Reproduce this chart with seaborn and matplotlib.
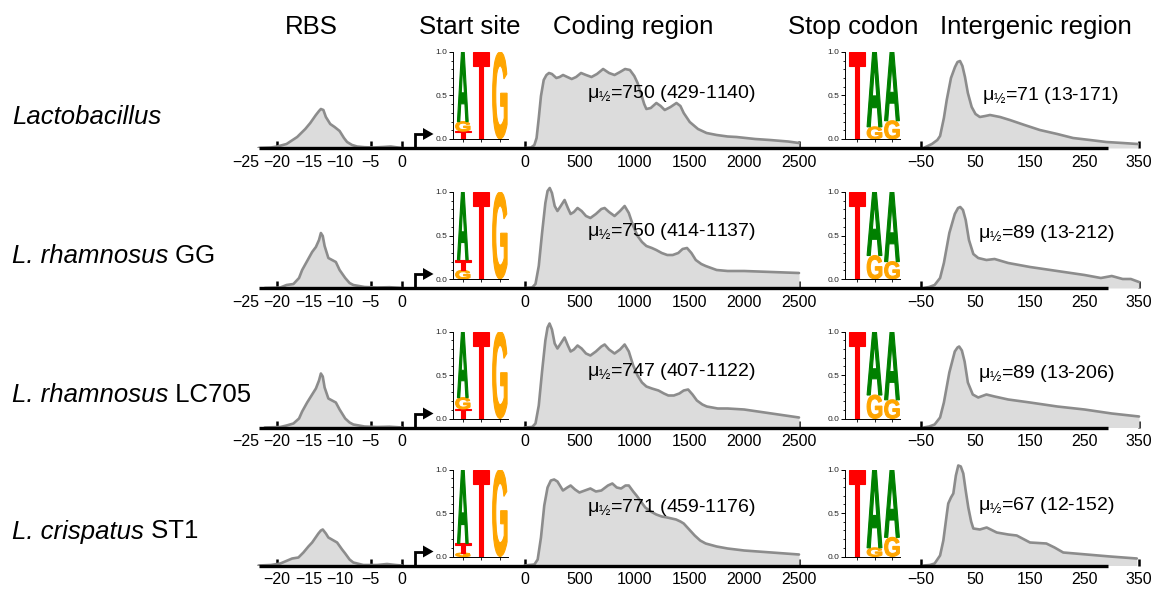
import numpy as np
import pandas as pd
import matplotlib
matplotlib.use("Agg")
import matplotlib.pyplot as plt
import seaborn as sns
from matplotlib.textpath import TextPath
from matplotlib.patches import PathPatch, Polygon
from matplotlib.font_manager import FontProperties
from matplotlib.transforms import Affine2D
from matplotlib.ticker import MultipleLocator

# ---------------- data ----------------
headers = ["RBS", "Start site", "Coding region", "Stop codon", "Intergenic region"]
row_italic = ["Lactobacillus", "L. rhamnosus", "L. rhamnosus", "L. crispatus"]
row_plain = ["", " GG", " LC705", " ST1"]

rbs_ticks_full = [-25, -20, -15, -10, -5, 0]
rbs_ticks_short = [-20, -15, -10, -5, 0]
coding_ticks = [0, 500, 1000, 1500, 2000, 2500]
inter_ticks = [-50, 50, 150, 250, 350]

# RBS densities (relative height)
rbs1_x = [-23, -21, -20, -18.5, -16.8, -15.5, -14.7, -13.8, -13.3, -13.0, -12.6, -12.2, -11.5, -10.8, -10.0, -9.3, -8.8, -8.0, -7.2, -6, -4.6, -3, -1.8, -1, 0]
rbs1_y = [0, 0.5, 1.5, 4, 11, 19, 25, 33, 37, 39, 38, 31, 24, 21, 17, 10, 6, 3, 1.5, 0.8, 0.5, 1, 1.5, 0.8, 0]
rbs2_x = [-22, -19.5, -18.5, -17.4, -16.5, -16, -15.2, -14.4, -13.8, -13.3, -13.0, -12.7, -12.4, -11.8, -11.2, -10.6, -10.0, -9.1, -8.4, -7.8, -6, -4, -2, 0]
rbs2_y = [0, 0.5, 3, 4, 10, 18, 27, 36, 41, 48, 55, 52, 42, 30, 28, 26, 18, 10, 5, 3, 1, 0.5, 0.8, 0]
rbs3_x = [-22, -19.5, -18.5, -17.4, -16.5, -16, -15.2, -14.4, -13.8, -13.3, -13.0, -12.7, -12.4, -11.8, -11.2, -10.6, -10.0, -9.1, -8.4, -7.8, -6, -4, -2, 0]
rbs3_y = [0, 0.5, 2, 4, 9, 16, 25, 33, 39, 47, 54, 51, 40, 29, 27, 25, 18, 9, 5, 3, 1, 0.5, 0.8, 0]
rbs4_x = [-23, -21, -19.5, -17.6, -16.6, -15.8, -15.0, -14.4, -13.4, -13.0, -12.7, -12.2, -11.8, -10.4, -9.6, -9.1, -8.4, -7.8, -6.2, -4, -2.4, -1, 0]
rbs4_y = [0, 0.5, 2, 7, 8, 13, 19, 23, 32, 35, 36, 32, 28, 23, 16, 12, 6, 3, 0.5, 0.5, 1.5, 0.5, 0]

# Coding region densities
cod1_x = [0, 60, 90, 110, 130, 150, 175, 200, 223, 250, 290, 320, 351, 390, 430, 470, 515, 560, 610, 660, 716, 770, 820, 870, 916, 960, 1000, 1030, 1060, 1090, 1110, 1150, 1201, 1240, 1277, 1330, 1384, 1420, 1450, 1505, 1580, 1658, 1750, 1850, 1931, 2100, 2235, 2400, 2500]
cod1_y = [0, 0.5, 3, 10, 30, 52, 68, 73, 75, 74, 70, 71, 73, 71, 69, 71, 75, 73, 71, 74, 79, 75, 73, 76, 79, 78, 72, 65, 55, 44, 39, 40, 45, 42, 38, 41, 45, 42, 35, 26, 19, 15, 13, 11.5, 11, 9, 8, 6.5, 5]
cod2_x = [0, 70, 100, 130, 160, 190, 210, 230, 250, 275, 300, 330, 365, 395, 420, 450, 483, 520, 560, 600, 650, 700, 730, 770, 820, 870, 912, 950, 990, 1030, 1070, 1110, 1160, 1200, 1250, 1300, 1350, 1400, 1440, 1480, 1520, 1560, 1610, 1650, 1700, 1750, 1850, 2000, 2250, 2500]
cod2_y = [0, 0.5, 4, 22, 55, 85, 97, 100, 95, 82, 77, 82, 88, 80, 74, 76, 80, 77, 72, 70, 74, 79, 80, 76, 72, 77, 82, 75, 62, 52, 46, 42, 40, 38, 35, 33, 33, 35, 39, 40, 35, 28, 24, 22, 20, 18, 17, 17, 16, 15]
cod3_x = [0, 70, 100, 130, 160, 190, 210, 228, 250, 275, 300, 330, 365, 395, 420, 450, 483, 520, 560, 600, 650, 700, 730, 770, 820, 870, 912, 950, 990, 1030, 1070, 1110, 1160, 1220, 1270, 1310, 1360, 1410, 1450, 1490, 1530, 1570, 1620, 1660, 1710, 1760, 1850, 2000, 2250, 2500]
cod3_y = [0, 0.5, 4, 22, 56, 87, 100, 104, 98, 84, 79, 84, 90, 82, 76, 78, 82, 79, 74, 72, 76, 81, 83, 78, 74, 78, 83, 76, 62, 52, 45, 41, 39, 37, 34, 32, 32, 34, 37, 38, 33, 27, 23, 21, 20, 19, 19, 18, 14, 10]
cod4_x = [0, 90, 120, 150, 180, 210, 240, 270, 300, 350, 390, 420, 460, 500, 550, 600, 650, 700, 760, 800, 840, 880, 920, 950, 990, 1020, 1060, 1100, 1150, 1200, 1250, 1300, 1340, 1380, 1420, 1450, 1500, 1550, 1600, 1650, 1750, 1850, 2000, 2250, 2500]
cod4_y = [0, 1, 6, 28, 60, 78, 85, 86, 84, 75, 78, 80, 76, 73, 75, 77, 74, 75, 80, 82, 78, 77, 80, 80, 74, 70, 64, 58, 54, 51, 49, 48, 47, 46, 44, 42, 36, 30, 25, 22, 19, 17, 15, 13, 11]

# Intergenic region densities
int1_x = [-45, -39.6, -30, -20, -15, -8, -2.8, 5, 12.4, 17, 21.6, 26, 30.7, 36, 43, 50, 58, 68, 76.6, 95, 113, 140, 168, 200, 229, 260, 290, 320, 348]
int1_y = [0, 1.5, 4, 8, 12, 30, 48, 70, 81, 86, 87, 82, 71, 55, 41, 34, 31, 32, 33, 31, 28, 23, 18, 14, 10, 8, 6, 5, 4]
int2_x = [-45, -35, -25, -15, -8, 2, 12, 18, 22, 27, 32, 38, 46, 55, 70, 85, 110, 150, 200, 250, 280, 300, 320, 335, 350]
int2_y = [0, 1, 3, 10, 25, 55, 74, 80, 81, 78, 68, 48, 34, 30, 28, 29, 25, 21, 17, 13, 10, 12, 9, 9, 6]
int3_x = [-45, -35, -25, -15, -8, 2, 12, 17, 20, 25, 30, 36, 45, 55, 70, 85, 110, 150, 200, 250, 300, 350]
int3_y = [0, 1, 3, 10, 25, 55, 76, 80, 81, 77, 66, 45, 33, 30, 33, 31, 28, 25, 21, 18, 14, 11]
int4_x = [-45, -33.5, -25, -15, -9, -3, 0, 5, 9.3, 14, 18.4, 23, 27.6, 32, 36.8, 42, 46, 58, 70.5, 89, 110, 125.6, 150, 180, 195, 211, 254, 297, 346]
int4_y = [0, 0.5, 2, 10, 25, 50, 62, 68, 72, 90, 100, 99, 92, 75, 58, 44, 37, 36, 38, 33, 31, 30, 23, 22, 18, 13, 11, 9, 7]

coding_text = ["=750 (429-1140)", "=750 (414-1137)", "=747 (407-1122)", "=771 (459-1176)"]
inter_text = ["=71 (13-171)", "=89 (13-212)", "=89 (13-206)", "=67 (12-152)"]

# Sequence logos (letter heights, 0-1)
start_pos1_A = [0.80, 0.78, 0.76, 0.85]
start_pos1_G = [0.11, 0.10, 0.13, 0.04]
start_pos1_T = [0.09, 0.12, 0.11, 0.11]
start_pos2_T = [1.0, 1.0, 1.0, 1.0]
start_pos3_G = [1.0, 1.0, 1.0, 1.0]
stop_pos1_T = [1.0, 1.0, 1.0, 1.0]
stop_pos2_A = [0.86, 0.73, 0.73, 0.90]
stop_pos2_G = [0.14, 0.27, 0.27, 0.10]
stop_pos3_A = [0.79, 0.80, 0.785, 0.78]
stop_pos3_G = [0.21, 0.20, 0.215, 0.22]

# ---------------- style ----------------
sns.set_theme(style="white")
plt.rcParams['font.family'] = ['Liberation Sans', 'DejaVu Sans']
plt.rcParams['mathtext.fontset'] = 'custom'
plt.rcParams['mathtext.rm'] = 'Liberation Sans'
plt.rcParams['mathtext.it'] = 'Liberation Sans:italic'
plt.rcParams['mathtext.bf'] = 'Liberation Sans:bold'

LINE = "#8c8c8c"
FILL = "#dcdcdc"
COLORS = {"A": "#008000", "T": "#ff0000", "G": "#ffa500"}
LOGO_FONT = FontProperties(family="Liberation Sans", weight="bold")

W, H = 1158, 590
fig = plt.figure(figsize=(W / 100, H / 100), dpi=100)

baselines = [148, 288, 427.5, 565.5]


def ax_px(x0, x1, y_top, y_bot, **kw):
    a = fig.add_axes([x0 / W, 1 - y_bot / H, (x1 - x0) / W, (y_bot - y_top) / H], **kw)
    a.patch.set_visible(False)
    return a


def density_axis(x0, x1, base, xlim, ticks, xs, ys):
    a = ax_px(x0, x1, base - 120, base)
    a.fill_between(xs, 0, ys, color=FILL, lw=0, zorder=1)
    sns.lineplot(x=xs, y=ys, ax=a, color=LINE, lw=1.9, estimator=None, sort=False,
                 solid_joinstyle="round", zorder=2)
    a.set_xlim(*xlim)
    a.set_ylim(0, 120)
    a.set_xticks(ticks)
    a.set_xticklabels([f"{t:d}".replace("-", "\u2212") for t in ticks])
    a.set_yticks([])
    a.set_xlabel("")
    a.set_ylabel("")
    for s in a.spines.values():
        s.set_visible(False)
    a.tick_params(axis="x", direction="in", length=5, width=1.8, color="black",
                  labelsize=11.5, pad=5, labelcolor="black", bottom=True)
    return a


def draw_letter(a, ch, xc, y0, h, w):
    if h <= 0:
        return
    tp = TextPath((0, 0), ch, size=1, prop=LOGO_FONT)
    bb = tp.get_extents()
    tr = (Affine2D().translate(-bb.x0, -bb.y0)
          .scale(w / bb.width, h / bb.height)
          .translate(xc - w / 2, y0))
    a.add_patch(PathPatch(tr.transform_path(tp), facecolor=COLORS[ch], edgecolor=COLORS[ch],
                          linewidth=0.8, joinstyle="miter", zorder=3))


def logo_axis(x0, x1, base, xlim, columns, widths):
    a = ax_px(x0, x1, base - 96, base - 9)
    a.set_xlim(*xlim)
    a.set_ylim(0, 1.0)
    for s in ["top", "right"]:
        a.spines[s].set_visible(False)
    for s in ["left", "bottom"]:
        a.spines[s].set_color("black")
        a.spines[s].set_linewidth(0.7)
        a.spines[s].set_zorder(5)
    a.set_yticks([0, 0.5, 1.0])
    a.set_yticklabels(["0.0", "0.5", "1.0"])
    a.yaxis.set_minor_locator(MultipleLocator(0.1))
    a.tick_params(axis="y", which="major", left=True, length=3, width=0.7, labelsize=6, pad=1, color="black")
    a.tick_params(axis="y", which="minor", left=True, length=1.8, width=0.6, color="black")
    a.set_xticks([1, 2, 3])
    a.set_xticklabels([])
    a.tick_params(axis="x", bottom=True, length=2, width=0.6, color="black")
    for i, stack in enumerate(columns):
        y = 0.0
        for ch, h in sorted(stack, key=lambda t: t[1]):
            draw_letter(a, ch, i + 1, y, h, widths[ch])
            y += h
    return a


for r, base in enumerate(baselines):
    rb_ticks = rbs_ticks_full if r < 3 else rbs_ticks_short
    rbs_xs = [rbs1_x, rbs2_x, rbs3_x, rbs4_x][r]
    rbs_ys = [rbs1_y, rbs2_y, rbs3_y, rbs4_y][r]
    a = density_axis(230, 412, base, ((230 - 402) / 6.24, (412 - 402) / 6.24), rb_ticks, rbs_xs, rbs_ys)
    if r < 3:
        a.xaxis.get_major_ticks()[0].tick1line.set_visible(False)

    cod_xs = [cod1_x, cod2_x, cod3_x, cod4_x][r]
    cod_ys = [cod1_y, cod2_y, cod3_y, cod4_y][r]
    density_axis(515, 805, base, ((515 - 524.5) / 0.1098, (805 - 524.5) / 0.1098), coding_ticks, cod_xs, cod_ys)

    int_xs = [int1_x, int2_x, int3_x, int4_x][r]
    int_ys = [int1_y, int2_y, int3_y, int4_y][r]
    density_axis(905, 1145, base, (-50 + (905 - 921) / 0.545, -50 + (1145 - 921) / 0.545), inter_ticks, int_xs, int_ys)

    logo_axis(453, 508, base, (0.47, 3.44),
              [[("T", start_pos1_T[r]), ("G", start_pos1_G[r]), ("A", start_pos1_A[r])],
               [("T", start_pos2_T[r])],
               [("G", start_pos3_G[r])]],
              {"A": 0.58, "T": 0.88, "G": 0.78})
    logo_axis(845, 900, base, (0.31, 3.46),
              [[("T", stop_pos1_T[r])],
               [("G", stop_pos2_G[r]), ("A", stop_pos2_A[r])],
               [("G", stop_pos3_G[r]), ("A", stop_pos3_A[r])]],
              {"A": 0.85, "T": 0.9, "G": 0.85})

# ---------------- overlay: baselines, arrows, text ----------------
ov = fig.add_axes([0, 0, 1, 1], zorder=10)
ov.set_xlim(0, W)
ov.set_ylim(H, 0)
ov.axis("off")
ov.patch.set_visible(False)

header_x = [311, 470, 633, 853, 1036]
for hx, txt in zip(header_x, headers):
    ov.text(hx, 27, txt, ha="center", va="center", fontsize=18.5, color="black")

label_dy = [31, 32, 32, 34]
coding_dy = [55, 56, 56, 58]
inter_dy = [53, 54, 54, 60]
for r, base in enumerate(baselines):
    ov.plot([259, 1108], [base, base], color="black", lw=2.4, solid_capstyle="butt")
    # start arrow
    ov.plot([414.5, 414.5, 425], [base, base - 14, base - 14], color="black", lw=2.0,
            solid_joinstyle="miter", solid_capstyle="butt")
    ov.add_patch(Polygon([[423, base - 20], [433.5, base - 14], [423, base - 8]], closed=True,
                         facecolor="black", edgecolor="none"))
    t1 = ov.text(12, base - label_dy[r], row_italic[r], ha="left", va="center",
                 fontsize=18.5, style="italic", color="black")
    if row_plain[r]:
        ov.annotate(row_plain[r], xy=(1, 0), xycoords=t1, ha="left", va="bottom",
                    fontsize=18.5, color="black")
    ov.text(587, base - coding_dy[r], r"μ$_{\mathrm{½}}$" + coding_text[r], ha="left", va="center",
            fontsize=14, color="black")
    ov.text(978 if r else 982, base - inter_dy[r], r"μ$_{\mathrm{½}}$" + inter_text[r], ha="left",
            va="center", fontsize=14, color="black")

fig.savefig("out.png", dpi=100)
